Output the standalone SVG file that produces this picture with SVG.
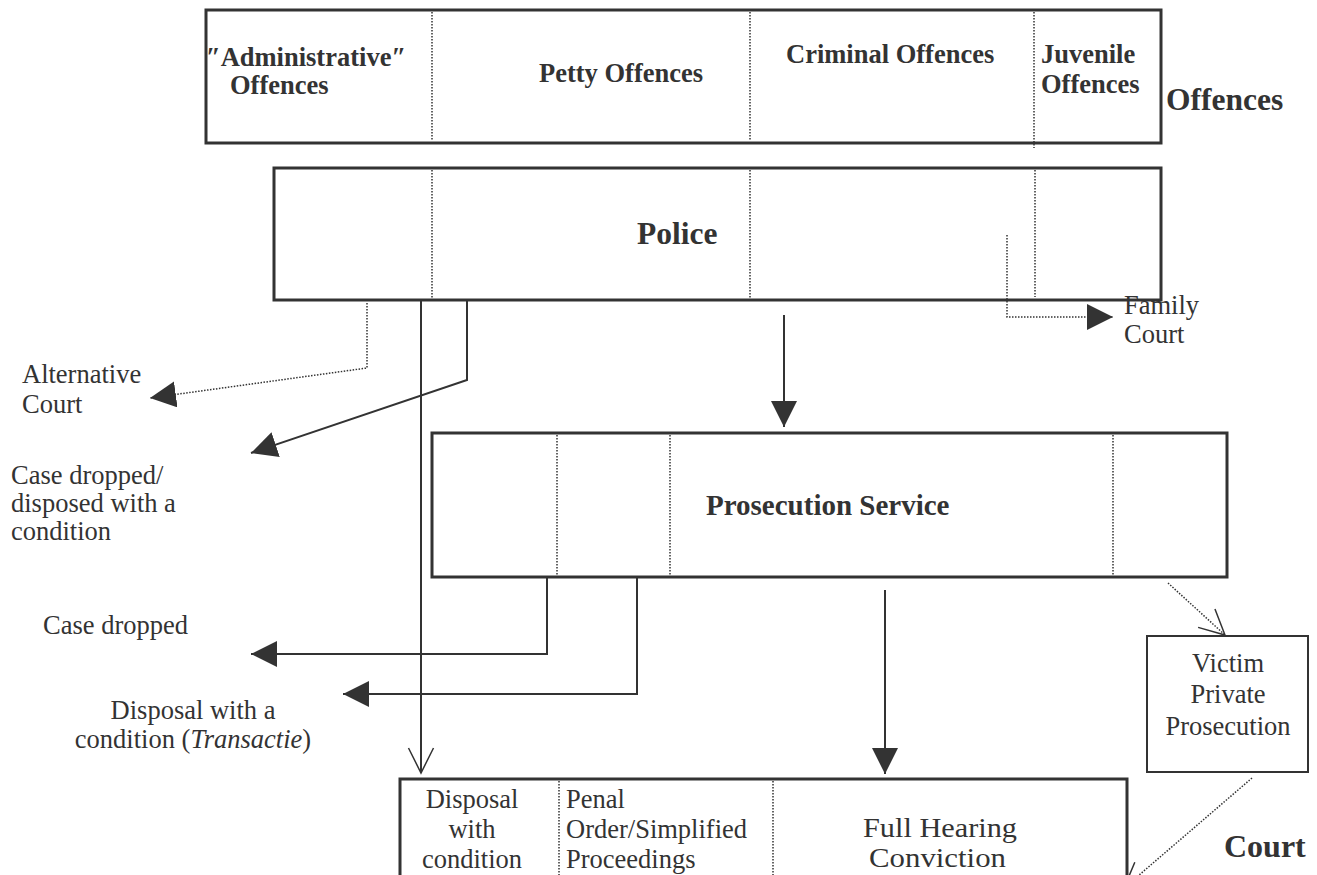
<svg xmlns="http://www.w3.org/2000/svg" width="1317" height="875" viewBox="0 0 1317 875">
<defs>
<style>
.box{fill:#fff;stroke:#333;stroke-width:3}
.div{stroke:#333;stroke-width:1.5;stroke-dasharray:1.5 1.5;fill:none}
.ln{stroke:#333;stroke-width:2;fill:none}
.dl{stroke:#333;stroke-width:1.5;stroke-dasharray:1.5 1.5;fill:none}
.b{font-family:"Liberation Serif","Times New Roman",serif;font-weight:bold;font-size:26.5px;fill:#333}
.bl{font-family:"Liberation Serif","Times New Roman",serif;font-weight:bold;font-size:31.5px;fill:#333}
.r{font-family:"Liberation Serif","Times New Roman",serif;font-size:26.5px;fill:#333}
</style>
<marker id="fa" markerUnits="userSpaceOnUse" markerWidth="28" markerHeight="28" refX="26" refY="13" orient="auto" viewBox="0 0 28 28">
<path d="M0,0 L26,13 L0,26 z" fill="#333"/>
</marker>
<marker id="oa" markerUnits="userSpaceOnUse" markerWidth="30" markerHeight="30" refX="27" refY="15" orient="auto" viewBox="0 0 30 30">
<path d="M2,2.5 L27,15 L2,27.5" fill="none" stroke="#333" stroke-width="1.5"/>
</marker>
</defs>
<rect width="1317" height="875" fill="#fff"/>

<g id="offences">
<rect class="box" x="206" y="10" width="955" height="133"/>
<line class="div" x1="432" y1="12" x2="432" y2="141"/>
<line class="div" x1="750" y1="12" x2="750" y2="141"/>
<line class="div" x1="1034" y1="12" x2="1034" y2="148"/>
<text class="b" x="206" y="66">″Administrative″</text>
<text class="b" x="230" y="94">Offences</text>
<text class="b" x="539" y="82">Petty Offences</text>
<text class="b" x="786" y="63">Criminal Offences</text>
<text class="b" x="1041" y="63">Juvenile</text>
<text class="b" x="1041" y="93">Offences</text>
<text class="bl" x="1166" y="110">Offences</text>
</g>

<g id="police">
<rect class="box" x="274" y="168" width="887" height="132"/>
<line class="div" x1="432" y1="170" x2="432" y2="298"/>
<line class="div" x1="750" y1="170" x2="750" y2="298"/>
<line class="div" x1="1035" y1="170" x2="1035" y2="297"/>
<text class="bl" x="637" y="244">Police</text>
</g>

<g id="prosecution">
<rect class="box" x="432" y="433" width="795" height="144"/>
<line class="div" x1="557" y1="435" x2="557" y2="575"/>
<line class="div" x1="670" y1="435" x2="670" y2="575"/>
<line class="div" x1="1113" y1="435" x2="1113" y2="575"/>
<text class="b" x="706" y="515" style="font-size:29px">Prosecution Service</text>
</g>

<g id="court">
<path class="box" d="M400,880 V779 H1127 V880"/>
<line class="div" x1="559" y1="781" x2="559" y2="875"/>
<line class="div" x1="773" y1="781" x2="773" y2="875"/>
<text class="r" text-anchor="middle"><tspan x="472" y="808">Disposal</tspan><tspan x="472" y="838">with</tspan><tspan x="472" y="868">condition</tspan></text>
<text class="r"><tspan x="566" y="808">Penal</tspan><tspan x="566" y="838">Order/Simplified</tspan><tspan x="566" y="868">Proceedings</tspan></text>
<text class="r" x="863" y="837" textLength="154" lengthAdjust="spacingAndGlyphs">Full  Hearing</text>
<text class="r" x="869" y="867" textLength="137" lengthAdjust="spacingAndGlyphs">Conviction</text>
<text class="bl" x="1224" y="857" style="font-size:32px">Court</text>
</g>

<g id="victim">
<rect x="1147" y="636" width="161" height="136" fill="#fff" stroke="#333" stroke-width="2"/>
<text class="r" text-anchor="middle"><tspan x="1228" y="672">Victim</tspan><tspan x="1228" y="703">Private</tspan><tspan x="1228" y="735">Prosecution</tspan></text>
</g>

<g id="outcomes">
<text class="r"><tspan x="22" y="383">Alternative</tspan><tspan x="22" y="413">Court</tspan></text>
<text class="r"><tspan x="11" y="484">Case dropped/</tspan><tspan x="11" y="512">disposed with a</tspan><tspan x="11" y="540">condition</tspan></text>
<text class="r" x="43" y="634">Case dropped</text>
<text class="r" text-anchor="middle"><tspan x="193" y="719">Disposal with a</tspan><tspan x="193" y="748">condition (<tspan font-style="italic">Transactie</tspan>)</tspan></text>
<text class="r"><tspan x="1124" y="314">Family</tspan><tspan x="1124" y="343">Court</tspan></text>
</g>

<g id="connectors">
<path class="dl" d="M367,303 V368 L150,398" marker-end="url(#fa)"/>
<path class="ln" d="M467,300 V380 L251,453" marker-end="url(#fa)"/>
<path class="ln" d="M421,300 V773" marker-end="url(#oa)"/>
<path class="ln" d="M784,315 V427" marker-end="url(#fa)"/>
<path class="dl" d="M1007,235 V317 H1113" marker-end="url(#fa)"/>
<path class="ln" d="M547,577 V654 H251" marker-end="url(#fa)"/>
<path class="ln" d="M637,577 V694 H343" marker-end="url(#fa)"/>
<path class="ln" d="M885,590 V774" marker-end="url(#fa)"/>
<path class="dl" d="M1168,583 L1225,635" marker-end="url(#oa)"/>
<path class="dl" d="M1252,778 L1124,888" marker-end="url(#oa)"/>
</g>
</svg>
